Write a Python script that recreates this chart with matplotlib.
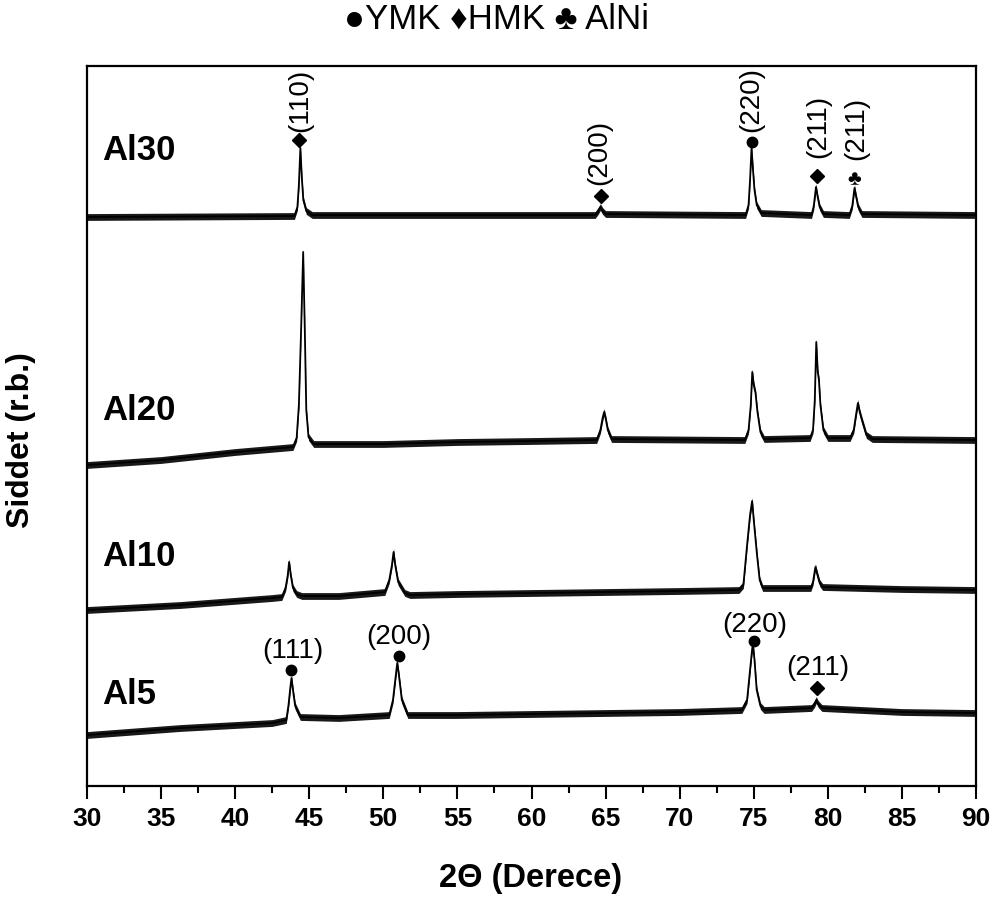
import matplotlib
matplotlib.use("Agg")
import matplotlib.pyplot as plt
from matplotlib.ticker import MultipleLocator

plt.rcParams['font.family'] = ['Liberation Sans', 'DejaVu Sans']

# ---- data (2-theta in degrees, intensity in arbitrary units incl. stacking offset) ----
al30_x = [30, 44.0, 44.2, 44.3, 44.4, 44.5, 44.6, 44.8, 45.2, 64.3, 64.5, 64.65, 64.8, 65.0,
          74.45, 74.65, 74.75, 74.85, 74.95, 75.05, 75.2, 75.5, 78.9, 79.05, 79.2, 79.3, 79.45,
          79.7, 81.45, 81.65, 81.8, 81.9, 82.05, 82.3, 90]
al30_y = [568, 569, 578, 600, 637, 607, 585, 574, 570, 570, 574, 578, 574, 571,
          570, 580, 605, 637, 615, 595, 580, 572, 570, 579, 598, 589, 578,
          571, 570, 579, 597, 589, 578, 571, 570]

al20_x = [30, 35, 40, 43.9, 44.15, 44.3, 44.45, 44.59, 44.7, 44.8, 44.95, 45.3, 50, 55, 60,
          64.4, 64.65, 64.8, 64.9, 65.0, 65.15, 65.4, 74.4, 74.65, 74.8, 74.9, 75.0, 75.12,
          75.25, 75.45, 75.7, 78.8, 79.0, 79.12, 79.22, 79.32, 79.4, 79.5, 79.7, 80.0, 81.5,
          81.75, 81.9, 82.03, 82.15, 82.3, 82.6, 83.0, 90]
al20_y = [320, 325, 333, 338, 347, 380, 455, 533, 455, 375, 348, 341, 341, 343, 344,
          345, 355, 367, 373, 367, 355, 346, 345, 355, 380, 413, 400, 392,
          373, 353, 346, 347, 355, 385, 443, 413, 405, 380, 355, 347, 347,
          355, 370, 382, 373, 365, 350, 346, 345]

al10_x = [30, 36.3, 42.5, 43.15, 43.4, 43.55, 43.64, 43.75, 43.9, 44.15, 44.5, 47, 50.1, 50.4,
          50.58, 50.69, 50.8, 51.0, 51.45, 51.8, 55, 60, 65, 70, 74.0, 74.3, 74.55, 74.75,
          74.89, 75.0, 75.22, 75.4, 75.6, 78.85, 79.0, 79.16, 79.3, 79.45, 79.65, 85, 90]
al10_y = [175, 180, 187, 188, 197, 210, 223, 210, 197, 191, 189, 189, 193, 205,
          220, 233, 220, 203, 192, 190, 191, 192, 193, 194, 195, 200, 240, 270,
          284, 265, 230, 205, 197, 197, 203, 218, 210, 202, 198, 196, 195]

al5_x = [30, 36.3, 42.5, 43.45, 43.6, 43.72, 43.8, 43.9, 44.05, 44.4, 47, 50.4, 50.65, 50.82,
         50.94, 51.05, 51.25, 51.65, 55, 60, 70, 74.2, 74.55, 74.75, 74.9, 74.95, 75.05, 75.2,
         75.45, 75.7, 78.9, 79.1, 79.22, 79.35, 79.6, 85, 90]
al5_y = [50, 57, 62, 65, 80, 97, 107, 95, 79, 68, 67, 70, 85, 107,
         122, 110, 85, 70, 70, 71, 73, 75, 85, 115, 137, 140, 125, 95,
         79, 75, 77, 81, 85, 81, 77, 73, 72]

samples = ['Al30', 'Al20', 'Al10', 'Al5']
sample_label_y = [634, 375, 229, 90]

# peak annotations
ann_x = [44.32, 64.68, 74.89, 79.27, 81.8, 43.8, 51.03, 75.05, 79.27]
ann_marker_y = [645, 589, 643, 609, 605, 115, 129, 144, 97]
ann_label_x = [44.4, 64.6, 74.85, 79.35, 81.95, 43.9, 51.03, 75.05, 79.33]
ann_label_y = [685, 633, 686, 659, 657, 134, 148, 160, 117]
ann_phase = ['HMK', 'HMK', 'YMK', 'HMK', 'AlNi', 'YMK', 'YMK', 'YMK', 'HMK']
ann_text = ['(110)', '(200)', '(220)', '(211)', '(211)', '(111)', '(200)', '(220)', '(211)']
ann_rot = [90, 90, 90, 90, 90, 0, 0, 0, 0]

# ---- figure ----
fig = plt.figure(figsize=(9.92, 9.01), dpi=100)
ax = fig.add_axes([87/992, 1 - 786/901, (976 - 87)/992, (786 - 66)/901])

noise_half = 3.4
for xs, ys in [(al30_x, al30_y), (al20_x, al20_y), (al10_x, al10_y), (al5_x, al5_y)]:
    lo = [v - noise_half for v in ys]
    hi = [v + noise_half for v in ys]
    ax.fill_between(xs, lo, hi, color='black', lw=0, alpha=0.9)
    ax.plot(xs, ys, color='black', lw=1.3)

for name, yl in zip(samples, sample_label_y):
    ax.text(31.0, yl, name, fontsize=25, fontweight='bold', ha='left', va='center')

for x, my, lx, ly, ph, t, r in zip(ann_x, ann_marker_y, ann_label_x, ann_label_y,
                                     ann_phase, ann_text, ann_rot):
    if ph == 'YMK':
        ax.plot([x], [my], marker='o', ms=7.5, color='black', ls='none')
    elif ph == 'HMK':
        ax.plot([x], [my], marker='D', ms=7, color='black', ls='none')
    else:
        ax.text(x, my, '\u2663', fontsize=15, ha='center', va='center')
    ax.text(lx, ly, t, fontsize=20, rotation=r, ha='center', va='center')

ax.set_xlim(30, 90)
ax.set_ylim(-1, 719)
ax.xaxis.set_major_locator(MultipleLocator(5))
ax.xaxis.set_minor_locator(MultipleLocator(2.5))
ax.set_yticks([])
ax.tick_params(axis='x', which='major', direction='out', length=9, width=1.5,
               labelsize=19, pad=6)
ax.tick_params(axis='x', which='minor', direction='out', length=5, width=1.5)
for lab in ax.get_xticklabels():
    lab.set_fontweight('bold')
for s in ax.spines.values():
    s.set_linewidth(1.6)

fig.text(0.535, 1 - 878/901, '2\u0398 (Derece)', fontsize=23.5, fontweight='bold',
         ha='center', va='center')
fig.text(21/992, 1 - 440/901, 'Siddet (r.b.)', fontsize=23, fontweight='bold',
         ha='center', va='center', rotation=90)
fig.text(0.5, 1 - 19/901, '\u25cfYMK \u2666HMK \u2663 AlNi', fontsize=25,
         ha='center', va='center')

fig.savefig('out.png', dpi=100)
